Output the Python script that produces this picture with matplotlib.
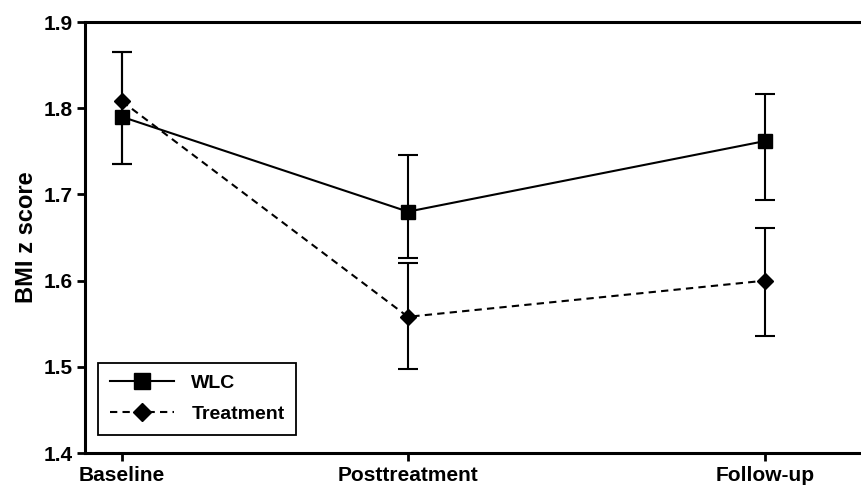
import matplotlib
matplotlib.use('Agg')
from matplotlib import pyplot as plt

plt.rcParams['font.family'] = ['Liberation Sans', 'DejaVu Sans']
plt.rcParams['font.weight'] = 'bold'

time_points = [0, 4, 9]
time_labels = ['Baseline', 'Posttreatment', 'Follow-up']

wlc_mean = [1.790, 1.680, 1.762]
wlc_low = [1.735, 1.626, 1.693]
wlc_high = [1.865, 1.746, 1.816]
treatment_mean = [1.808, 1.558, 1.600]
treatment_low = [1.735, 1.498, 1.536]
treatment_high = [1.865, 1.621, 1.661]

fig = plt.figure(figsize=(8.62, 4.88), dpi=100)
ax = fig.add_axes([0.0986, 0.0717, 0.9014, 0.8832])

# error bars first, then lines with markers (these carry the legend)
for mean, low, high in [(wlc_mean, wlc_low, wlc_high),
                        (treatment_mean, treatment_low, treatment_high)]:
    yerr = [[m - lo for m, lo in zip(mean, low)], [hi - m for m, hi in zip(mean, high)]]
    ax.errorbar(time_points, mean, yerr=yerr, fmt='none', ecolor='black',
                elinewidth=1.5, capsize=7, capthick=1.5)

ax.plot(time_points, wlc_mean, color='black', lw=1.5, marker='s',
        markersize=10, label='WLC')
ax.plot(time_points, treatment_mean, color='black', lw=1.5, ls=(0, (3.5, 2.5)),
        marker='D', markersize=8, label='Treatment')

ax.set_xlim(-0.517, 10.35)
ax.set_ylim(1.4, 1.9)
ax.set_yticks([1.4, 1.5, 1.6, 1.7, 1.8, 1.9])
ax.set_xticks(time_points)
ax.set_xticklabels(time_labels)
ax.set_ylabel('BMI z score', fontsize=17, fontweight='bold', labelpad=4)

for side in ['left', 'top', 'bottom']:
    ax.spines[side].set_linewidth(2.2)
ax.spines['right'].set_visible(False)
ax.tick_params(direction='out', length=6, width=2, labelsize=15, pad=3)

leg = ax.legend(loc='lower left', bbox_to_anchor=(0.0167, 0.042), borderaxespad=0,
                fancybox=False, edgecolor='black', framealpha=1, handlelength=3.3,
                fontsize=14, borderpad=0.6, labelspacing=0.7, markerscale=1.2,
                handletextpad=0.9)
leg.get_frame().set_linewidth(1.3)

fig.savefig('out.png', dpi=100)
